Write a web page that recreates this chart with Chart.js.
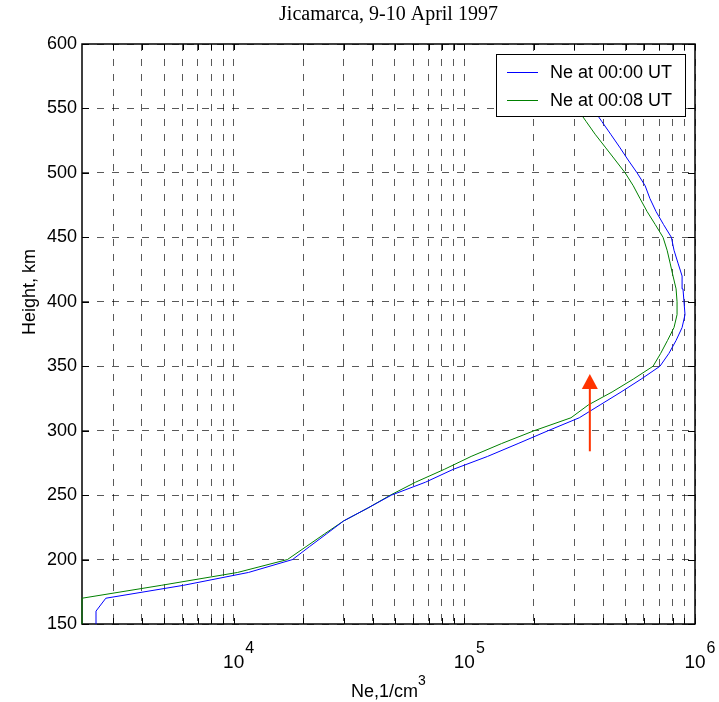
<!DOCTYPE html>
<html>
<head>
<meta charset="utf-8">
<script src="https://cdn.jsdelivr.net/npm/chart.js@4.4.0/dist/chart.umd.min.js"></script>
<style>
  html, body { margin: 0; padding: 0; background: #fff; }
</style>
</head>
<body>
<canvas id="myChart" width="719" height="702"></canvas>
<script>
// heights (km) and electron density (1/cm3)
const heights = [150, 160, 170, 180, 190, 200, 210, 220, 230, 240,
                 250, 260, 270, 280, 290, 300, 310, 320, 330, 340,
                 350, 360, 370, 380, 390, 400, 410, 420, 430, 440,
                 450, 460, 470, 480, 490, 500, 510, 520, 530, 540,
                 550, 560];
const ne0000 = [2530, 2530, 2790, 6050, 11600, 18000, 21300, 25300, 30000, 38200,
                48300, 67800, 89500, 126000, 171000, 231000, 315000, 388000, 478000, 584000,
                705000, 771000, 828000, 879000, 905000, 896000, 887000, 879000, 844000, 811000,
                790000, 730000, 678000, 638000, 608000, 561000, 513000, 471000, 431000, 394000,
                361000, 331000];
const ne0008 = [2200, 2200, 2200, 4850, 10400, 17100, 20600, 24800, 30000, 38200,
                47800, 61400, 81900, 107000, 145000, 201000, 290000, 345000, 437000, 540000,
                658000, 710000, 760000, 811000, 836000, 836000, 828000, 803000, 780000, 757000,
                727000, 672000, 620000, 578000, 540000, 498000, 451000, 408000, 369000, 337000,
                308000, 282000];
const seriesNames = ['Ne at 00:00 UT', 'Ne at 00:08 UT'];
const xTicks = [3000, 4000, 5000, 6000, 7000, 8000, 9000, 10000,
                20000, 30000, 40000, 50000, 60000, 70000, 80000, 90000, 100000,
                200000, 300000, 400000, 500000, 600000, 700000, 800000, 900000, 1000000];
const xLabelTicks = [10000, 100000, 1000000];
// arrow marker: Ne value and height range
const arrowNe = 350000;
const arrowFrom = 284;
const arrowTo = 344;

const SANS = "'Liberation Sans', Arial, sans-serif";

function pts(vals) {
  return heights.map((h, i) => ({ x: vals[i], y: h }));
}

const framePlugin = {
  id: 'frame',
  beforeDatasetsDraw(chart) {
    const { ctx, chartArea: a, scales: { x, y } } = chart;
    ctx.save();
    ctx.strokeStyle = '#000';
    ctx.lineWidth = 1;
    ctx.beginPath();
    x.ticks.forEach(t => {
      const px = Math.round(x.getPixelForValue(t.value)) + 0.5;
      ctx.moveTo(px, a.bottom); ctx.lineTo(px, a.bottom - 6);
      ctx.moveTo(px, a.top); ctx.lineTo(px, a.top + 6);
    });
    y.ticks.forEach(t => {
      const py = Math.round(y.getPixelForValue(t.value)) + 0.5;
      ctx.moveTo(a.left, py); ctx.lineTo(a.left + 7, py);
      ctx.moveTo(a.right, py); ctx.lineTo(a.right - 7, py);
    });
    ctx.stroke();
    ctx.lineWidth = 1.5;
    ctx.strokeRect(a.left, a.top, a.right - a.left, a.bottom - a.top);
    ctx.restore();
  },
  afterDatasetsDraw(chart) {
    const { ctx, chartArea: a, scales: { x, y } } = chart;
    ctx.save();
    // red arrow
    const ax = x.getPixelForValue(arrowNe);
    const y0 = y.getPixelForValue(arrowFrom);
    const y1 = y.getPixelForValue(arrowTo);
    ctx.strokeStyle = '#ff3300';
    ctx.fillStyle = '#ff3300';
    ctx.lineWidth = 2;
    ctx.beginPath();
    ctx.moveTo(ax, y0); ctx.lineTo(ax, y1 + 14);
    ctx.stroke();
    ctx.beginPath();
    ctx.moveTo(ax, y1); ctx.lineTo(ax - 8, y1 + 15); ctx.lineTo(ax + 8, y1 + 15);
    ctx.closePath();
    ctx.fill();

    // legend box inside the axes
    const lx = a.right - 199, ly = a.top + 10, lw = 189, lh = 62;
    ctx.fillStyle = '#fff';
    ctx.fillRect(lx, ly, lw, lh);
    ctx.strokeStyle = '#000';
    ctx.lineWidth = 1;
    ctx.strokeRect(lx + 0.5, ly + 0.5, lw, lh);
    ctx.font = '18px ' + SANS;
    ctx.textBaseline = 'middle';
    ctx.textAlign = 'left';
    chart.data.datasets.forEach((ds, i) => {
      const yy = ly + 18.5 + i * 28;
      ctx.strokeStyle = ds.borderColor;
      ctx.beginPath();
      ctx.moveTo(lx + 11, yy); ctx.lineTo(lx + 42, yy);
      ctx.stroke();
      ctx.fillStyle = '#000';
      ctx.fillText(ds.label, lx + 54, yy + 1);
    });
    ctx.restore();
  },
  afterDraw(chart) {
    const { ctx, chartArea: a, scales: { x } } = chart;
    ctx.save();
    ctx.fillStyle = '#000';
    ctx.textBaseline = 'alphabetic';
    // x tick labels 10^n
    xLabelTicks.forEach(v => {
      const px = x.getPixelForValue(v);
      ctx.font = '19px ' + SANS;
      const w = ctx.measureText('10').width;
      ctx.textAlign = 'center';
      ctx.fillText('10', px, a.bottom + 44);
      ctx.textAlign = 'left';
      ctx.font = '16px ' + SANS;
      ctx.fillText(String(Math.round(Math.log10(v))), px + w / 2 + 1, a.bottom + 29);
    });
    // x axis title
    ctx.font = '18px ' + SANS;
    const base = 'Ne,1/cm';
    const wb = ctx.measureText(base).width;
    ctx.font = '14px ' + SANS;
    const ws = ctx.measureText('3').width;
    const cx = (a.left + a.right) / 2;
    const sx = cx - (wb + ws) / 2;
    ctx.textAlign = 'left';
    ctx.font = '18px ' + SANS;
    ctx.fillText(base, sx, a.bottom + 73);
    ctx.font = '14px ' + SANS;
    ctx.fillText('3', sx + wb, a.bottom + 61);
    // y axis title
    ctx.font = '18px ' + SANS;
    ctx.translate(30, 292);
    ctx.rotate(-Math.PI / 2);
    ctx.textAlign = 'center';
    ctx.textBaseline = 'middle';
    ctx.fillText('Height, km', 0, 0);
    ctx.restore();
  }
};

const grafico = document.getElementById('myChart');
new Chart(grafico, {
  type: 'scatter',
  data: {
    datasets: [{
      label: seriesNames[0],
      data: pts(ne0000),
      showLine: true,
      borderColor: '#0000ff',
      backgroundColor: '#0000ff',
      borderWidth: 1,
      pointRadius: 0,
      clip: 2
    }, {
      label: seriesNames[1],
      data: pts(ne0008),
      showLine: true,
      borderColor: '#008000',
      backgroundColor: '#008000',
      borderWidth: 1,
      pointRadius: 0,
      clip: 2
    }]
  },
  options: {
    responsive: false,
    animation: false,
    layout: { padding: { top: 0, right: 24, bottom: 0, left: 0 } },
    plugins: {
      legend: { display: false },
      tooltip: { enabled: false },
      title: {
        display: true,
        text: 'Jicamarca, 9-10 April 1997',
        color: '#000',
        fullSize: false,
        font: { family: "'Liberation Serif', 'Times New Roman', serif", size: 20, weight: 'normal', lineHeight: 1.2 },
        padding: { top: 3, bottom: 17 }
      }
    },
    scales: {
      x: {
        type: 'logarithmic',
        min: 2200,
        max: 1000000,
        afterBuildTicks: s => { s.ticks = xTicks.map(v => ({ value: v })); },
        afterFit: s => { s.height = 78; },
        ticks: { display: false },
        grid: { color: 'rgba(0,0,0,0.65)', lineWidth: 1, drawTicks: false },
        border: { display: false, dash: [7, 8] }
      },
      y: {
        type: 'linear',
        min: 150,
        max: 600,
        ticks: { stepSize: 50, color: '#000', padding: 5, font: { family: SANS, size: 18 } },
        afterFit: s => { s.width = 82; },
        grid: { color: 'rgba(0,0,0,0.65)', lineWidth: 1, drawTicks: false },
        border: { display: false, dash: [7, 8] }
      }
    }
  },
  plugins: [framePlugin]
});
</script>
</body>
</html>
